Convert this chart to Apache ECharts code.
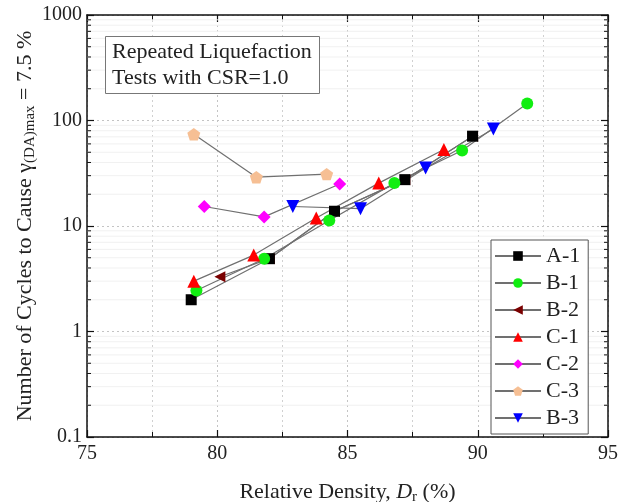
<!DOCTYPE html>
<html>
<head>
<meta charset="utf-8">
<script src="https://cdn.jsdelivr.net/npm/echarts@6/dist/echarts.min.js"></script>
<style>
  html, body { margin: 0; padding: 0; background: #fff; }
  #main { width: 630px; height: 502px; }
</style>
</head>
<body>
<div id="main"></div>
<script>
// data: [relative density %, cycles]
var seriesNames = ['A-1', 'B-1', 'B-2', 'C-1', 'C-2', 'C-3', 'B-3'];
var dataA1 = [[79.0, 2.0], [82.0, 4.9], [84.5, 13.8], [87.2, 27.5], [89.8, 71]];
var dataB1 = [[79.2, 2.45], [81.8, 4.9], [84.3, 11.3], [86.8, 25.5], [89.4, 52], [91.9, 145]];
var dataB2 = [[80.1, 3.3], [82.0, 4.9], [84.5, 13.8], [87.2, 27.5], [89.8, 71]];
var dataC1 = [[79.1, 3.0], [81.4, 5.3], [83.8, 11.9], [86.2, 25.5], [88.7, 53]];
var dataC2 = [[79.5, 15.3], [81.8, 12.2], [84.7, 25]];
var dataC3 = [[79.1, 74], [81.5, 29], [84.2, 31]];
var dataB3 = [[82.9, 15.3], [85.5, 14.6], [88.0, 35.5], [90.6, 83]];

var xTicks = [75, 80, 85, 90, 95];
var yTicks = [0.1, 1, 10, 100, 1000];
var yDecades = [0.1, 1, 10, 100];
var yMinorSteps = [2, 3, 4, 5, 6, 7, 8, 9];

var serif = '"Liberation Serif", "DejaVu Serif", serif';
var lineGray = '#707070';

var yMinor = [];
yDecades.forEach(function (d) {
    yMinorSteps.forEach(function (k) {
        yMinor.push([xTicks[0], +(d * k).toPrecision(3)]);
    });
});

function makeSeries(name, data, color, symbol, size, rotate) {
    return {
        name: name,
        type: 'line',
        data: data,
        symbol: symbol,
        symbolSize: size,
        symbolRotate: rotate || 0,
        symbolKeepAspect: true,
        showAllSymbol: true,
        lineStyle: { color: lineGray, width: 1.2 },
        itemStyle: { color: color },
        emphasis: { disabled: true },
        animation: false
    };
}

var pentagon = 'path://M0,-1L0.951,-0.309L0.588,0.809L-0.588,0.809L-0.951,-0.309Z';

var chart = echarts.init(document.getElementById('main'));

var axisCommon = {
    axisLine: { show: true, onZero: false, lineStyle: { color: '#111', width: 1.5 } },
    axisTick: { show: true, inside: true, length: 7, lineStyle: { color: '#111', width: 1.2 } }
};

var option = {
    backgroundColor: '#fff',
    animation: false,
    grid: { left: 87, right: 22, top: 15, bottom: 65, outerBoundsMode: 'none' },
    title: {
        text: 'Repeated Liquefaction\nTests with CSR=1.0',
        left: 105, top: 36,
        padding: [3, 8, 3, 7],
        borderColor: '#777', borderWidth: 1,
        backgroundColor: '#fff',
        textStyle: { fontFamily: serif, fontSize: 22, fontWeight: 'normal', color: '#222', lineHeight: 26 }
    },
    legend: {
        orient: 'vertical',
        left: 491, top: 240,
        itemWidth: 46, itemHeight: 12, itemGap: 5,
        data: seriesNames,
        backgroundColor: '#fff',
        borderColor: '#555', borderWidth: 1,
        padding: [5, 8, 5, 3],
        textStyle: { fontFamily: serif, fontSize: 22, color: '#222' }
    },
    xAxis: [
        Object.assign({
            type: 'value', min: 75, max: 95, interval: 5, position: 'bottom',
            name: '{a|Relative Density, }{i|D}{s|r}{a| (%)}',
            nameLocation: 'middle', nameGap: 42, nameMoveOverlap: false,
            nameTextStyle: {
                rich: {
                    a: { fontFamily: serif, fontSize: 22, color: '#222', lineHeight: 26 },
                    i: { fontFamily: serif, fontSize: 22, fontStyle: 'italic', color: '#222', lineHeight: 26 },
                    s: { fontFamily: serif, fontSize: 15, color: '#222', lineHeight: 16, verticalAlign: 'bottom' }
                }
            },
            minorTick: { show: true, splitNumber: 2, length: 5, lineStyle: { color: '#111' } },
            axisLabel: { fontFamily: serif, fontSize: 20, color: '#222', margin: 7 },
            splitLine: { show: true, lineStyle: { color: '#c4c4c4', type: [2, 3] } },
            minorSplitLine: { show: true, lineStyle: { color: '#d0d0d0', type: [2, 3] } }
        }, axisCommon),
        Object.assign({
            type: 'value', min: 75, max: 95, interval: 5, position: 'top',
            minorTick: { show: true, splitNumber: 2, length: 5, lineStyle: { color: '#111' } },
            axisLabel: { show: false },
            splitLine: { show: false }
        }, axisCommon)
    ],
    yAxis: [
        Object.assign({
            type: 'log', logBase: 10, min: yTicks[0], max: yTicks[yTicks.length - 1], splitNumber: 4,
            position: 'left',
            name: '{a|Number of Cycles to Cause γ}{s|(DA)max}{a| = 7.5 %}',
            nameLocation: 'middle', nameGap: 49, nameRotate: 90, nameMoveOverlap: false,
            nameTextStyle: {
                rich: {
                    a: { fontFamily: serif, fontSize: 22, color: '#222', lineHeight: 26 },
                    s: { fontFamily: serif, fontSize: 15, color: '#222', lineHeight: 16, verticalAlign: 'bottom' }
                }
            },
            axisLabel: {
                fontFamily: serif, fontSize: 20, color: '#222', margin: 5,
                formatter: function (v) { return String(+v.toPrecision(3)); }
            },
            splitLine: { show: true, lineStyle: { color: '#c4c4c4', type: [2, 3] } }
        }, axisCommon),
        Object.assign({
            type: 'log', logBase: 10, min: yTicks[0], max: yTicks[yTicks.length - 1], splitNumber: 4,
            position: 'right',
            axisLabel: { show: false },
            splitLine: { show: false }
        }, axisCommon)
    ],
    series: [
        // minor log ticks on both y axes, plus faint minor grid
        {
            type: 'custom',
            silent: true,
            z: 1,
            clip: false,
            data: yMinor,
            renderItem: function (params, api) {
                var v = api.value(1);
                var l = api.coord([75, v]);
                var r = api.coord([95, v]);
                return {
                    type: 'group',
                    children: [
                        { type: 'line', shape: { x1: l[0], y1: l[1], x2: r[0], y2: r[1] }, style: { stroke: '#f1f1f1', lineWidth: 1 } },
                        { type: 'line', shape: { x1: l[0], y1: l[1], x2: l[0] + 4, y2: l[1] }, style: { stroke: '#111', lineWidth: 1 } },
                        { type: 'line', shape: { x1: r[0] - 4, y1: r[1], x2: r[0], y2: r[1] }, style: { stroke: '#111', lineWidth: 1 } }
                    ]
                };
            }
        },
        makeSeries('B-2', dataB2, '#7a0000', 'triangle', 11, 90),
        makeSeries('A-1', dataA1, '#000000', 'rect', 11),
        makeSeries('B-1', dataB1, '#11ee11', 'circle', 12),
        makeSeries('C-1', dataC1, '#ff0000', 'triangle', 13),
        makeSeries('C-2', dataC2, '#ff00ff', 'diamond', 13),
        makeSeries('C-3', dataC3, '#f6bf94', pentagon, 13),
        makeSeries('B-3', dataB3, '#0000ff', 'triangle', 13, 180)
    ]
};

option && chart.setOption(option);
</script>
</body>
</html>
